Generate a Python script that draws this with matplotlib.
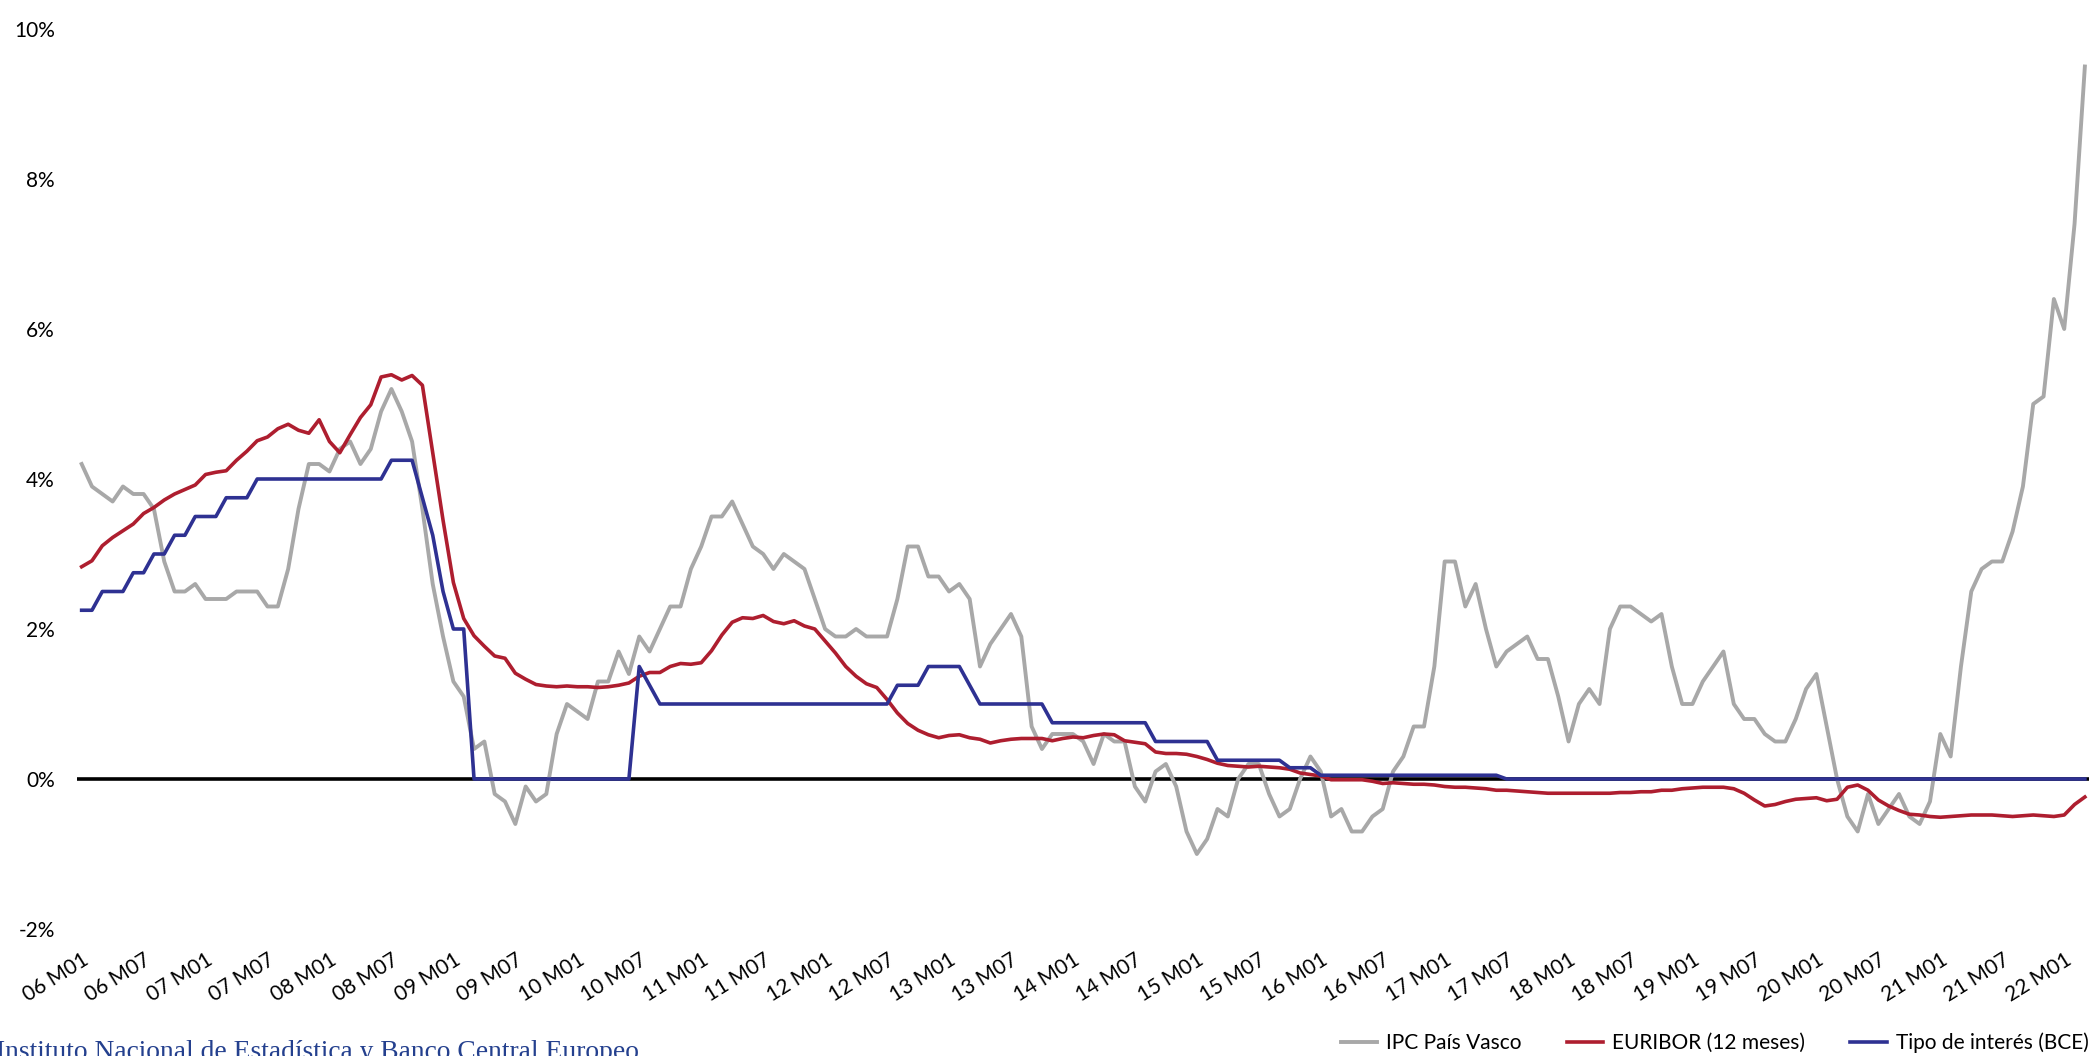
import numpy as np
import matplotlib
matplotlib.use("Agg")
import matplotlib.pyplot as plt

# ---- data (monthly, 2006 M01 .. 2022 M03) ----
ipc_pais_vasco = [
    4.2, 3.9, 3.8, 3.7, 3.9, 3.8, 3.8, 3.6, 2.9, 2.5, 2.5, 2.6,      # 2006
    2.4, 2.4, 2.4, 2.5, 2.5, 2.5, 2.3, 2.3, 2.8, 3.6, 4.2, 4.2,      # 2007
    4.1, 4.4, 4.5, 4.2, 4.4, 4.9, 5.2, 4.9, 4.5, 3.6, 2.6, 1.9,      # 2008
    1.3, 1.1, 0.4, 0.5, -0.2, -0.3, -0.6, -0.1, -0.3, -0.2, 0.6, 1.0, # 2009
    0.9, 0.8, 1.3, 1.3, 1.7, 1.4, 1.9, 1.7, 2.0, 2.3, 2.3, 2.8,      # 2010
    3.1, 3.5, 3.5, 3.7, 3.4, 3.1, 3.0, 2.8, 3.0, 2.9, 2.8, 2.4,      # 2011
    2.0, 1.9, 1.9, 2.0, 1.9, 1.9, 1.9, 2.4, 3.1, 3.1, 2.7, 2.7,      # 2012
    2.5, 2.6, 2.4, 1.5, 1.8, 2.0, 2.2, 1.9, 0.7, 0.4, 0.6, 0.6,      # 2013
    0.6, 0.5, 0.2, 0.6, 0.5, 0.5, -0.1, -0.3, 0.1, 0.2, -0.1, -0.7,  # 2014
    -1.0, -0.8, -0.4, -0.5, 0.0, 0.2, 0.2, -0.2, -0.5, -0.4, 0.0, 0.3, # 2015
    0.1, -0.5, -0.4, -0.7, -0.7, -0.5, -0.4, 0.1, 0.3, 0.7, 0.7, 1.5, # 2016
    2.9, 2.9, 2.3, 2.6, 2.0, 1.5, 1.7, 1.8, 1.9, 1.6, 1.6, 1.1,      # 2017
    0.5, 1.0, 1.2, 1.0, 2.0, 2.3, 2.3, 2.2, 2.1, 2.2, 1.5, 1.0,      # 2018
    1.0, 1.3, 1.5, 1.7, 1.0, 0.8, 0.8, 0.6, 0.5, 0.5, 0.8, 1.2,      # 2019
    1.4, 0.7, 0.0, -0.5, -0.7, -0.2, -0.6, -0.4, -0.2, -0.5, -0.6, -0.3, # 2020
    0.6, 0.3, 1.5, 2.5, 2.8, 2.9, 2.9, 3.3, 3.9, 5.0, 5.1, 6.4,      # 2021
    6.0, 7.4, 9.5,                                                   # 2022
]

euribor_12m = [
    2.83, 2.91, 3.11, 3.22, 3.31, 3.40, 3.54, 3.62, 3.72, 3.80, 3.86, 3.92,
    4.06, 4.09, 4.11, 4.25, 4.37, 4.51, 4.56, 4.67, 4.73, 4.65, 4.61, 4.79,
    4.50, 4.35, 4.59, 4.82, 4.99, 5.36, 5.39, 5.32, 5.38, 5.25, 4.35, 3.45,
    2.62, 2.14, 1.91, 1.77, 1.64, 1.61, 1.41, 1.33, 1.26, 1.24, 1.23, 1.24,
    1.23, 1.23, 1.22, 1.23, 1.25, 1.28, 1.37, 1.42, 1.42, 1.50, 1.54, 1.53,
    1.55, 1.71, 1.92, 2.09, 2.15, 2.14, 2.18, 2.10, 2.07, 2.11, 2.04, 2.00,
    1.84, 1.68, 1.50, 1.37, 1.27, 1.22, 1.06, 0.88, 0.74, 0.65, 0.59, 0.55,
    0.58, 0.59, 0.55, 0.53, 0.48, 0.51, 0.53, 0.54, 0.54, 0.54, 0.51, 0.54,
    0.56, 0.55, 0.58, 0.60, 0.59, 0.51, 0.49, 0.47, 0.36, 0.34, 0.34, 0.33,
    0.30, 0.26, 0.21, 0.18, 0.17, 0.16, 0.17, 0.16, 0.15, 0.13, 0.08, 0.06,
    0.04, -0.01, -0.01, -0.01, -0.01, -0.03, -0.06, -0.05, -0.06, -0.07, -0.07, -0.08,
    -0.10, -0.11, -0.11, -0.12, -0.13, -0.15, -0.15, -0.16, -0.17, -0.18, -0.19, -0.19,
    -0.19, -0.19, -0.19, -0.19, -0.19, -0.18, -0.18, -0.17, -0.17, -0.15, -0.15, -0.13,
    -0.12, -0.11, -0.11, -0.11, -0.13, -0.19, -0.28, -0.36, -0.34, -0.30, -0.27, -0.26,
    -0.25, -0.29, -0.27, -0.11, -0.08, -0.15, -0.28, -0.36, -0.42, -0.47, -0.48, -0.50,
    -0.51, -0.50, -0.49, -0.48, -0.48, -0.48, -0.49, -0.50, -0.49, -0.48, -0.49, -0.50,
    -0.48, -0.34, -0.24,
]

tipo_bce = [
    2.25, 2.25, 2.5, 2.5, 2.5, 2.75, 2.75, 3.0, 3.0, 3.25, 3.25, 3.5,
    3.5, 3.5, 3.75, 3.75, 3.75, 4.0, 4.0, 4.0, 4.0, 4.0, 4.0, 4.0,
    4.0, 4.0, 4.0, 4.0, 4.0, 4.0, 4.25, 4.25, 4.25, 3.75, 3.25, 2.5,
    2.0, 2.0, 0.0, 0.0, 0.0, 0.0, 0.0, 0.0, 0.0, 0.0, 0.0, 0.0,
    0.0, 0.0, 0.0, 0.0, 0.0, 0.0, 1.5, 1.25, 1.0, 1.0, 1.0, 1.0,
    1.0, 1.0, 1.0, 1.0, 1.0, 1.0, 1.0, 1.0, 1.0, 1.0, 1.0, 1.0,
    1.0, 1.0, 1.0, 1.0, 1.0, 1.0, 1.0, 1.25, 1.25, 1.25, 1.5, 1.5,
    1.5, 1.5, 1.25, 1.0, 1.0, 1.0, 1.0, 1.0, 1.0, 1.0, 0.75, 0.75,
    0.75, 0.75, 0.75, 0.75, 0.75, 0.75, 0.75, 0.75, 0.5, 0.5, 0.5, 0.5,
    0.5, 0.5, 0.25, 0.25, 0.25, 0.25, 0.25, 0.25, 0.25, 0.15, 0.15, 0.15,
    0.05, 0.05, 0.05, 0.05, 0.05, 0.05, 0.05, 0.05, 0.05, 0.05, 0.05, 0.05,
    0.05, 0.05, 0.05, 0.05, 0.05, 0.05, 0.0, 0.0, 0.0, 0.0, 0.0, 0.0,
    0.0, 0.0, 0.0, 0.0, 0.0, 0.0, 0.0, 0.0, 0.0, 0.0, 0.0, 0.0,
    0.0, 0.0, 0.0, 0.0, 0.0, 0.0, 0.0, 0.0, 0.0, 0.0, 0.0, 0.0,
    0.0, 0.0, 0.0, 0.0, 0.0, 0.0, 0.0, 0.0, 0.0, 0.0, 0.0, 0.0,
    0.0, 0.0, 0.0, 0.0, 0.0, 0.0, 0.0, 0.0, 0.0, 0.0, 0.0, 0.0,
    0.0, 0.0, 0.0,
]

tick_labels = [
    "06 M01", "06 M07", "07 M01", "07 M07", "08 M01", "08 M07", "09 M01", "09 M07",
    "10 M01", "10 M07", "11 M01", "11 M07", "12 M01", "12 M07", "13 M01", "13 M07",
    "14 M01", "14 M07", "15 M01", "15 M07", "16 M01", "16 M07", "17 M01", "17 M07",
    "18 M01", "18 M07", "19 M01", "19 M07", "20 M01", "20 M07", "21 M01", "21 M07",
    "22 M01",
]
y_ticks = [-2, 0, 2, 4, 6, 8, 10]
y_tick_labels = ["-2%", "0%", "2%", "4%", "6%", "8%", "10%"]
series_names = ["IPC País Vasco", "EURIBOR (12 meses)", "Tipo de interés (BCE)"]
source_text = "Instituto Nacional de Estadística y Banco Central Europeo"

# ---- figure ----
W, H = 2089, 1056
plt.rcParams['font.family'] = ['Lato', 'DejaVu Sans']
fig = plt.figure(figsize=(W / 100, H / 100), dpi=100)
ax = fig.add_axes([77 / W, 1 - 929 / H, 1 - 77 / W, (929 - 29) / H])

x = np.arange(len(ipc_pais_vasco))
c_gray, c_red, c_blue = "#A8A8A8", "#AE1E2F", "#2E3192"
ax.axhline(0, color="black", lw=2.6, zorder=1)
l1, = ax.plot(x, ipc_pais_vasco, color=c_gray, lw=2.8, zorder=2)
l2, = ax.plot(x, euribor_12m, color=c_red, lw=2.6, zorder=3)
l3, = ax.plot(x, tipo_bce, color=c_blue, lw=2.6, zorder=4)

ax.set_xlim(-0.45, 194.4)
ax.set_ylim(-2, 10)
ax.set_yticks(y_ticks)
ax.set_yticklabels(y_tick_labels, fontsize=15)
ax.set_xticks(np.arange(0, len(x), 6))
ax.set_xticklabels(tick_labels, fontsize=15, rotation=32, ha="right",
                   va="top", rotation_mode="anchor")
ax.tick_params(axis="y", length=0, pad=16)
ax.tick_params(axis="x", length=0, pad=15)
for s in ax.spines.values():
    s.set_visible(False)

fig.legend([l1, l2, l3], series_names, loc="center right",
           bbox_to_anchor=(1.0, 1 - 1043 / H), ncol=3, frameon=False,
           fontsize=15, handlelength=1.75, handletextpad=0.45,
           columnspacing=2.15, borderaxespad=0, borderpad=0)

fig.text(-0.002, -0.003, source_text, family=["Liberation Serif", "DejaVu Serif"],
         fontsize=19.8, color="#24408E", ha="left", va="baseline")

fig.savefig("out.png", dpi=100)
